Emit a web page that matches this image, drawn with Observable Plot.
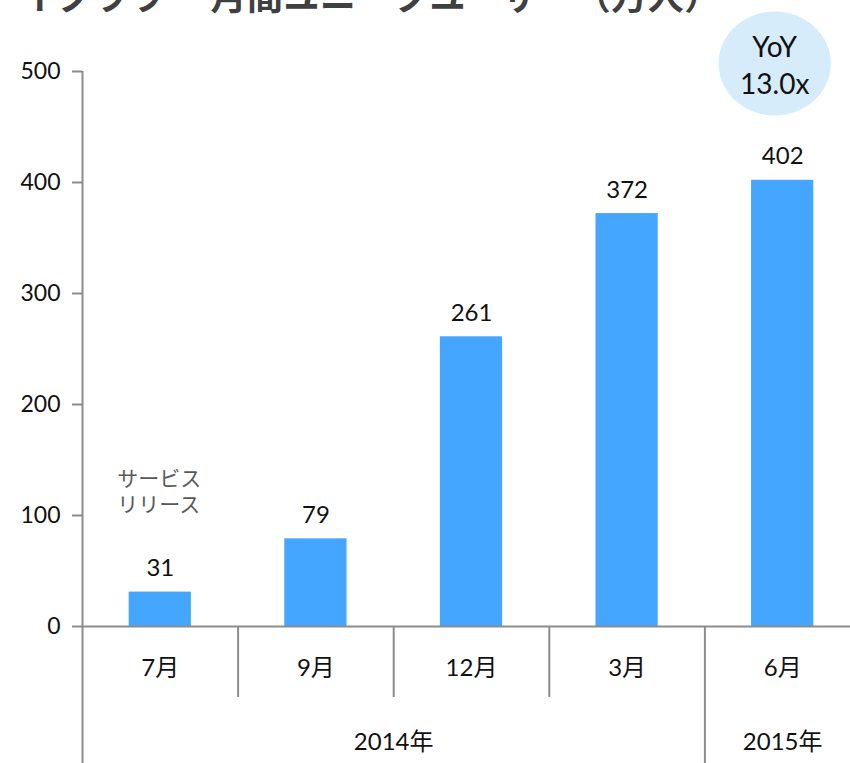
<!DOCTYPE html>
<html>
<head>
<meta charset="utf-8">
<script src="https://cdn.jsdelivr.net/npm/d3@7"></script>
<script src="https://cdn.jsdelivr.net/npm/@observablehq/plot@0.6"></script>
<style>
  html, body { margin: 0; padding: 0; background: #fff; overflow: hidden; }
  body { width: 850px; height: 763px; position: relative; font-family: Lato, "Noto Sans CJK JP", sans-serif; }
  #title { position: absolute; left: 20px; top: -24px; font-family: "Noto Sans CJK JP", sans-serif; font-weight: bold; font-size: 36px; line-height: 36px; color: #404040; white-space: nowrap; letter-spacing: 0.5px; }
  #chart { position: absolute; left: 0; top: 0; }
</style>
</head>
<body>
<div id="title">イクララー 月間ユニークユーザー（万人）</div>
<div id="chart"></div>
<script>
const months = ["7月", "9月", "12月", "3月", "6月"];
const years = ["2014年", "2014年", "2014年", "2014年", "2015年"];
const values = [31, 79, 261, 372, 402];
const yTicks = [0, 100, 200, 300, 400, 500];
const noteText = "サービス\nリリース";
const yoyText = "YoY\n13.0x";

const data = months.map((m, i) => ({i, m, v: values[i], year: years[i]}));

// year groups (from data)
const groups = [];
data.forEach(d => {
  const g = groups.find(g => g.year === d.year);
  if (g) g.last = d.i; else groups.push({year: d.year, first: d.i, last: d.i});
});
const groupLabels = groups.map(g => ({year: g.year, x: (g.first + g.last) / 2}));
const groupDividers = groups.map(g => g.first - 0.5);
const monthDividers = data.map(d => d.i - 0.5).filter(x => !groupDividers.includes(x));
const axisX = data[0].i - 0.5;

const gray = "#8c8c8c";
const font = "Lato, 'Noto Sans CJK JP', sans-serif";

// ellipse symbol for the YoY bubble
const ellipse = {
  draw(ctx, size) {
    const r = Math.sqrt(size / Math.PI);
    const rx = r * 1.08, ry = r, k = 0.5523;
    ctx.moveTo(rx, 0);
    ctx.bezierCurveTo(rx, ry * k, rx * k, ry, 0, ry);
    ctx.bezierCurveTo(-rx * k, ry, -rx, ry * k, -rx, 0);
    ctx.bezierCurveTo(-rx, -ry * k, -rx * k, -ry, 0, -ry);
    ctx.bezierCurveTo(rx * k, -ry, rx, -ry * k, rx, 0);
    ctx.closePath();
  }
};

const last = data[data.length - 1];

const chart = Plot.plot({
  width: 850,
  height: 763,
  marginLeft: 82,
  marginRight: -10,
  marginTop: 71,
  marginBottom: 137,
  style: {fontFamily: font, background: "transparent", overflow: "visible"},
  x: {type: "linear", domain: [-0.5, data.length - 0.5], axis: null},
  y: {domain: [0, 500], axis: null},
  marks: [
    // bars
    Plot.rectY(data, {x1: d => d.i - 0.2, x2: d => d.i + 0.2, y: "v", fill: "#45a6ff"}),
    // y axis
    Plot.axisY({ticks: yTicks, label: null, tickSize: 10, tickPadding: 12, fontSize: 23, stroke: gray, strokeWidth: 2, fill: "#111", tickFormat: d => String(d)}),
    // y axis line (continues to bottom)
    Plot.ruleX([axisX], {x: d => d, y1: 500, y2: 0, stroke: gray, strokeWidth: 2, insetBottom: -137}),
    // baseline
    Plot.ruleY([0], {stroke: gray, strokeWidth: 2, insetRight: -10}),
    // group dividers (long, to the bottom)
    Plot.ruleX(groupDividers.filter(x => x !== axisX), {x: d => d, y1: 0, y2: 0, stroke: gray, strokeWidth: 2, insetBottom: -137}),
    // month dividers (short)
    Plot.ruleX(monthDividers, {x: d => d, y1: 0, y2: 0, stroke: gray, strokeWidth: 2, insetBottom: -71}),
    // value labels
    Plot.text(data, {x: "i", y: "v", text: d => String(d.v), dy: -16, lineAnchor: "bottom", fontSize: 24, fill: "#111"}),
    // month labels
    Plot.text(data, {x: "i", text: "m", frameAnchor: "bottom", dy: 42, lineAnchor: "middle", fontSize: 24, fill: "#111"}),
    // year labels
    Plot.text(groupLabels, {x: "x", text: "year", frameAnchor: "bottom", dy: 116, lineAnchor: "middle", fontSize: 24, fill: "#111"}),
    // service release note
    Plot.text([noteText], {x: data[0].i, y: data[0].v, text: d => d, dx: -43, dy: -80, textAnchor: "start", lineAnchor: "bottom", lineHeight: 1.25, fontSize: 21, fill: "#595959"}),
    // YoY bubble
    Plot.dot([last], {x: "i", frameAnchor: "top", dx: -8, dy: -8, r: 52, symbol: ellipse, fill: "#d6ecfb", stroke: "none"}),
    Plot.text([yoyText], {x: last.i, frameAnchor: "top", lineAnchor: "middle", dx: -8, dy: -8, text: d => d, fontSize: 28, lineHeight: 1.35, fill: "#111"})
  ]
});
document.getElementById("chart").appendChild(chart);
</script>
</body>
</html>
